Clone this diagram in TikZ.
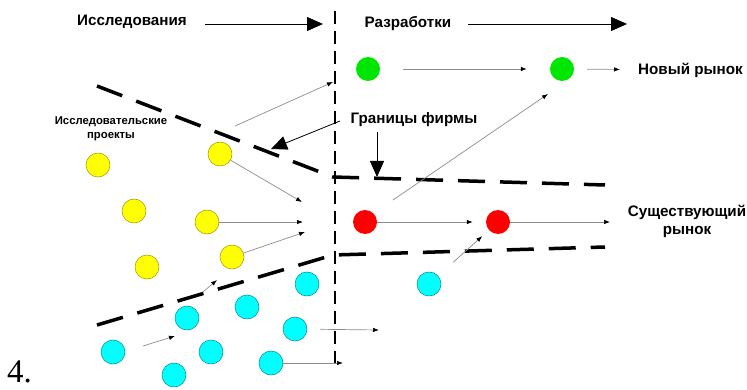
\documentclass[tikz,border=0pt]{standalone}
\usepackage{fontspec}
\setmainfont{Liberation Sans}
\newfontfamily\serifnum{Liberation Serif}
\usetikzlibrary{arrows.meta}
\definecolor{ygl}{RGB}{255,255,0}
\definecolor{cyl}{RGB}{0,255,255}
\definecolor{grl}{RGB}{0,230,0}
\definecolor{rdl}{RGB}{255,0,0}
\begin{document}
\begin{tikzpicture}[x=1pt,y=-1pt,
  lbl/.style={font=\bfseries\fontsize{15.2}{17}\selectfont, inner sep=0pt, align=center},
  smalllbl/.style={font=\bfseries\fontsize{11.3}{14}\selectfont, inner sep=0pt, align=center},
  proj/.style={circle, minimum size=24pt, inner sep=0pt},
  ylw/.style={proj, fill=ygl, draw=ygl!60!black, line width=0.5pt},
  cyn/.style={proj, fill=cyl, draw=cyl!55!black, line width=0.5pt},
  grn/.style={proj, fill=grl},
  rd/.style={proj, fill=rdl},
  flow/.style={draw=black!45, line width=0.7pt, -{Latex[length=6pt,width=4.5pt,color=black]}},
  bigarr/.style={draw=black, line width=0.8pt, -{Triangle[length=16pt,width=14pt]}},
  border/.style={line width=3.5pt, dash pattern=on 27pt off 15pt},
  vdash/.style={line width=1.5pt, dash pattern=on 13pt off 7pt}]
\useasboundingbox (0,0) rectangle (747,390);

% headers
\node[lbl] (res) at (132,22) {Исследования};
\node[lbl] (dev) at (408,24) {Разработки};
\coordinate (rs) at (205,24); \coordinate (re) at (323,24);
\coordinate (ds) at (468,24); \coordinate (de) at (627,24);
\draw[bigarr] (rs) -- (re);
\draw[bigarr] (ds) -- (de);

% vertical divider
\coordinate (vt) at (335,11); \coordinate (vb) at (335,365);
\draw[vdash] (vt) -- (vb);

% firm boundaries
\coordinate (u1) at (97,86); \coordinate (u2) at (333,177); \coordinate (u3) at (605,185);
\coordinate (l1) at (97,325); \coordinate (l2) at (333,255); \coordinate (l3) at (605,247);
\draw[border] (u1) -- (u2) -- (u3);
\draw[border] (l1) -- (l2) -- (l3);

% labels
\node[smalllbl] (projlbl) at (111,129) {Исследовательские\\проекты};
\node[lbl] (bnd) at (414,120) {Границы фирмы};
\node[lbl, anchor=west] (newm) at (638,70) {Новый рынок};
\node[lbl, font=\bfseries\fontsize{15.2}{18}\selectfont] (exm) at (687,221) {Существующий\\рынок};
\node[font=\serifnum\fontsize{33}{33}\selectfont, inner sep=0pt, anchor=base west] (num) at (7,382) {4.};

% boundary pointers
\coordinate (b1s) at (340,121); \coordinate (b1e) at (271,149);
\coordinate (b2s) at (377,132); \coordinate (b2e) at (377,177);
\draw[bigarr] (b1s) -- (b1e);
\draw[bigarr] (b2s) -- (b2e);

% green
\node[grn] (g1) at (368,69) {};
\node[grn] (g2) at (562,69) {};
% red
\node[rd] (r1) at (365,222) {};
\node[rd] (r2) at (498,222) {};
% yellow
\node[ylw] (y1) at (98,165) {};
\node[ylw] (y2) at (220,154) {};
\node[ylw] (y3) at (134,211) {};
\node[ylw] (y4) at (207,222) {};
\node[ylw] (y5) at (147,267) {};
\node[ylw] (y6) at (232,257) {};
% cyan
\node[cyn] (c1) at (307,284) {};
\node[cyn] (c2) at (247,307) {};
\node[cyn] (c3) at (187,318) {};
\node[cyn] (c4) at (295,329) {};
\node[cyn] (c5) at (113,352) {};
\node[cyn] (c6) at (211,352) {};
\node[cyn] (c7) at (174,375) {};
\node[cyn] (c8) at (271,363) {};
\node[cyn] (c9) at (429,284) {};

% flows
\draw[flow, shorten <=23pt, shorten >=23pt] (g1) -- (g2);
\draw[flow, shorten <=13pt, shorten >=18pt] (g2) -- (newm);
\draw[flow, shorten >=13pt] (r1) -- (r2);
\coordinate (rx) at (610,222);
\draw[flow] (r2) -- (rx);
\draw[flow, shorten <=20pt, shorten >=9pt] (c9) -- (r2);
\coordinate (ns) at (393,200); \coordinate (ne) at (548,94);
\draw[flow] (ns) -- (ne);
\coordinate (t1) at (302,202); \coordinate (t2) at (303,222); \coordinate (t3) at (305,232);
\draw[flow] (y2) -- (t1);
\draw[flow] (y4) -- (t2);
\draw[flow] (y6) -- (t3);
\coordinate (os) at (235,126); \coordinate (oe) at (333,82);
\draw[flow] (os) -- (oe);
\coordinate (t4) at (343,363);
\draw[flow] (c8) -- (t4);
\coordinate (t5) at (379,330);
\draw[flow, shorten <=13pt] (c4) -- (t5);
\coordinate (s6) at (143,346); \coordinate (t6) at (175,336);
\draw[flow] (s6) -- (t6);
\coordinate (s7) at (203,292); \coordinate (t7) at (217,280);
\draw[flow] (s7) -- (t7);
\end{tikzpicture}
\end{document}
